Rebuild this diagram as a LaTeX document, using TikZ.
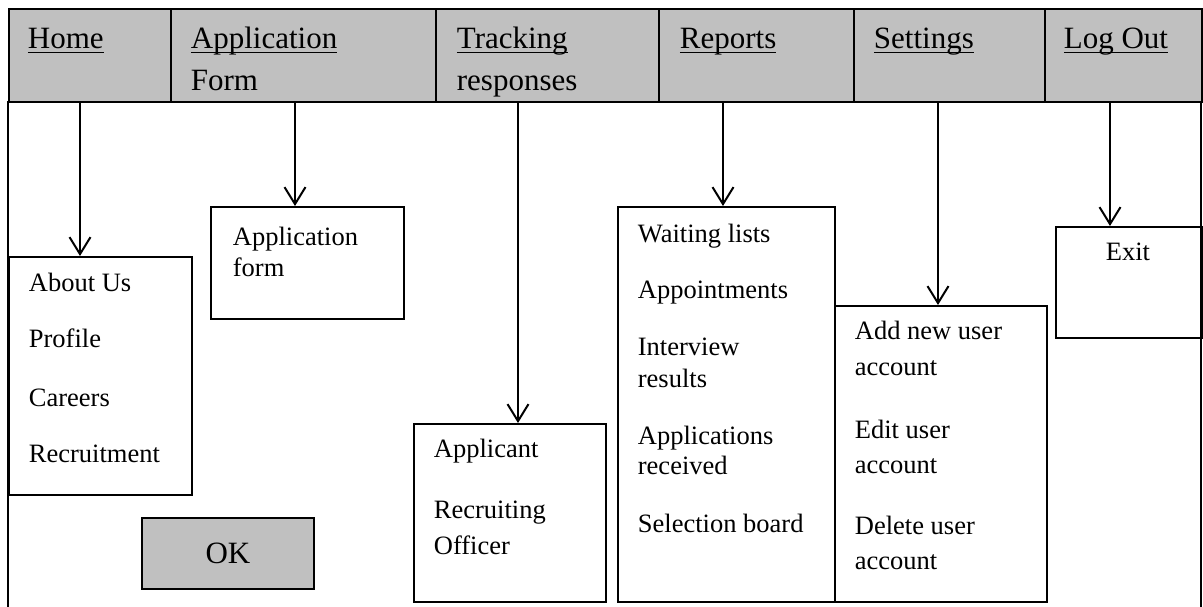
\documentclass[tikz,border=0pt]{standalone}
\usepackage{fontspec}
\setmainfont{Liberation Serif}
\usetikzlibrary{arrows.meta}
\definecolor{bargray}{RGB}{192,192,192}
\newcommand{\ulword}[1]{\setbox0\hbox{#1}\rlap{\rule[-4.5pt]{\wd0}{1.8pt}}\box0}
\begin{document}
\begin{tikzpicture}[x=1pt,y=-1pt, line width=1.8pt,
  cell/.style={draw, rectangle, fill=bargray, inner sep=0, anchor=north west, minimum height=93pt},
  box/.style={draw, rectangle, inner sep=0, anchor=north west},
  txt/.style={anchor=base west, inner sep=0, font=\fontsize{26.5}{30}\selectfont},
  bartxt/.style={anchor=base west, inner sep=0, font=\fontsize{31}{36}\selectfont},
  link/.style={-{Straight Barb[length=17pt,width=21pt,line width=2pt]}, line width=2pt}
]
\useasboundingbox (0,0) rectangle (1203,607);
% frame sides of lower area
\draw (8,101) -- (8,607);
\draw (1201,101) -- (1201,607);
% menu bar
\node[cell, minimum width=162pt] (cHome) at (8,8) {};
\node[cell, minimum width=265pt] (cApp) at (170,8) {};
\node[cell, minimum width=223pt] (cTrack) at (435,8) {};
\node[cell, minimum width=195pt] (cRep) at (658,8) {};
\node[cell, minimum width=191pt] (cSet) at (853,8) {};
\node[cell, minimum width=157pt] (cLog) at (1044,8) {};
\node[bartxt] (tHome) at (27,49) {\ulword{Home}};
\node[bartxt] (tApp) at (190,49) {\ulword{Application}};
\node[bartxt] (tApp2) at (190,91) {Form};
\node[bartxt] (tTrack) at (456,49) {\ulword{Tracking}};
\node[bartxt] (tTrack2) at (456,91) {responses};
\node[bartxt] (tRep) at (679,49) {\ulword{Reports}};
\node[bartxt] (tSet) at (873,49) {\ulword{Settings}};
\node[bartxt] (tLog) at (1063,49) {\ulword{Log Out}};
% boxes
\node[box, minimum width=183pt, minimum height=238pt] (homebox) at (8,256) {};
\node[box, minimum width=193pt, minimum height=112pt] (appbox) at (210,206) {};
\node[box, minimum width=192pt, minimum height=178pt] (trackbox) at (413,423) {};
\node[box, minimum width=217pt, minimum height=395pt] (repbox) at (617,206) {};
\node[box, minimum width=212pt, minimum height=296pt] (setbox) at (834,305) {};
\node[box, minimum width=146pt, minimum height=111pt] (exitbox) at (1055,226) {};
\node[box, fill=bargray, minimum width=172pt, minimum height=71pt, font=\fontsize{31}{36}\selectfont] (okbtn) at (141,517) {OK};
% texts
\node[txt] (h1) at (28,291) {About Us};
\node[txt] (h2) at (28,347) {Profile};
\node[txt] (h3) at (28,406) {Careers};
\node[txt] (h4) at (28,462) {Recruitment};
\node[txt] (a1) at (232,245) {Application};
\node[txt] (a2) at (232,276) {form};
\node[txt] (t1) at (433,457) {Applicant};
\node[txt] (t2) at (433,518) {Recruiting};
\node[txt] (t3) at (433,554) {Officer};
\node[txt] (r1) at (637,242) {Waiting lists};
\node[txt] (r2) at (637,298) {Appointments};
\node[txt] (r3) at (637,355) {Interview};
\node[txt] (r4) at (637,387) {results};
\node[txt] (r5) at (637,444) {Applications};
\node[txt] (r6) at (637,474) {received};
\node[txt] (r7) at (637,532) {Selection board};
\node[txt] (s1) at (854,339) {Add new user};
\node[txt] (s2) at (854,375) {account};
\node[txt] (s3) at (854,438) {Edit user};
\node[txt] (s4) at (854,473) {account};
\node[txt] (s5) at (854,534) {Delete user};
\node[txt] (s6) at (854,569) {account};
\node[txt, anchor=base] (e1) at (1128,260) {Exit};
% connectors
\draw[link] (cHome.south -| 80,0) -- (homebox.north -| 80,0);
\draw[link] (cApp.south -| 295,0) -- (appbox.north -| 295,0);
\draw[link] (cTrack.south -| 518,0) -- (trackbox.north -| 518,0);
\draw[link] (cRep.south -| 723,0) -- (repbox.north -| 723,0);
\draw[link] (cSet.south -| 938,0) -- (setbox.north -| 938,0);
\draw[link] (cLog.south -| 1110,0) -- (exitbox.north -| 1110,0);
\end{tikzpicture}
\end{document}
